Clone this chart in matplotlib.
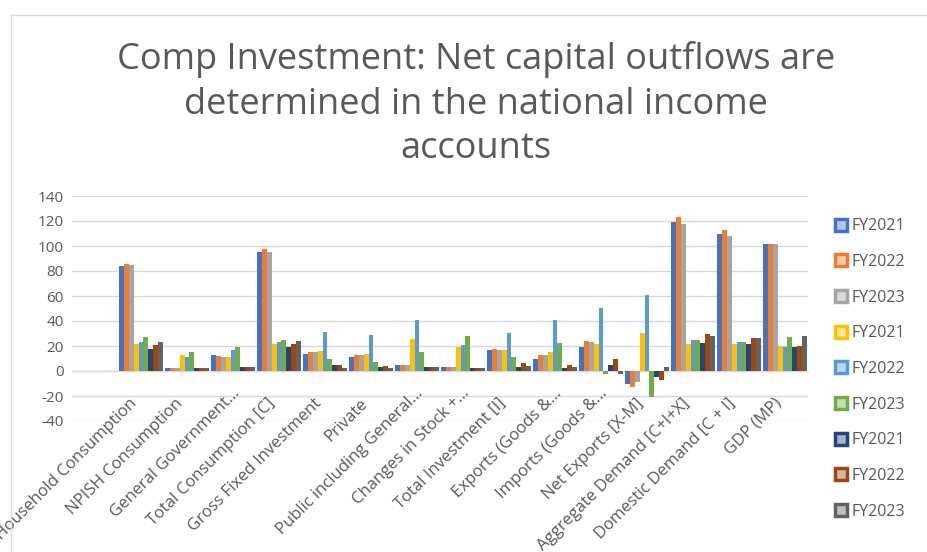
import matplotlib
matplotlib.use("Agg")
import matplotlib.pyplot as plt
import numpy as np
from matplotlib.lines import Line2D
from matplotlib.patches import Rectangle
from matplotlib.colors import to_rgb
from matplotlib.transforms import ScaledTranslation

plt.rcParams['font.family'] = ['Open Sans', 'DejaVu Sans']

title = "Comp Investment: Net capital outflows are\ndetermined in the national income\naccounts"

categories = ["", "Household Consumption", "NPISH Consumption", "General Government\u2026",
              "Total Consumption [C]", "Gross Fixed Investment", "Private",
              "Public including General\u2026", "Changes in Stock +\u2026", "Total Investment [I]",
              "Exports (Goods &\u2026", "Imports (Goods &\u2026", "Net Exports [X-M]",
              "Aggregate Demand [C+I+X]", "Domestic Demand [C + I]", "GDP (MP)"]

series_names = ["FY2021", "FY2022", "FY2023", "FY2021", "FY2022", "FY2023", "FY2021", "FY2022", "FY2023"]

nan = np.nan
s1 = [nan, 84, 2.5, 13, 95, 14, 11.5, 5, 3.5, 16.5, 10, 19.5, -10, 119, 110, 101.5]
s2 = [nan, 86, 2.5, 12, 98, 15, 13, 5, 3.5, 18, 12.5, 24, -13, 123, 113, 101.5]
s3 = [nan, 85, 2.5, 11.5, 95, 15.5, 13, 5, 3.5, 17, 13, 23, -9, 118, 108, 101.5]
s4 = [nan, 22, 12.5, 11, 22, 16, 13.5, 25.5, 19.5, 16.5, 15.5, 22, 30.5, 21.5, 21.5, 20]
s5 = [nan, 23, 11, 16.5, 23, 31.5, 29, 40.5, 20.5, 30.5, 40.5, 50.5, 60.5, 25, 23.5, 19.5]
s6 = [nan, 27, 15.5, 19.5, 25, 10, 7.5, 15.5, 28, 11.5, 22.5, -2.5, -20.5, 24.5, 23.5, 27.5]
s7 = [nan, 18, 2.5, 3.5, 19.5, 4.5, 3.5, 3, 2.5, 3.5, 2.5, 5, -5, 22.5, 22, 19]
s8 = [nan, 21, 2.5, 3.5, 22, 5, 4, 3, 2.5, 6.5, 5, 10, -7, 29.5, 26.5, 20]
s9 = [nan, 23, 2.5, 3.5, 24, 2.5, 2.5, 3, 2.5, 4, 3.5, -2.5, 3.5, 28, 26.5, 28]
series_values = [s1, s2, s3, s4, s5, s6, s7, s8, s9]

colors = ["#4472C4", "#ED7D31", "#A5A5A5", "#FFC000", "#5B9BD5", "#70AD47",
          "#264478", "#9E480E", "#636363"]

yticks = [-40, -20, 0, 20, 40, 60, 80, 100, 120, 140]

W, H = 928, 552
fig = plt.figure(figsize=(W / 100, H / 100), dpi=100)
fig.patch.set_facecolor("white")

L, R, T, B = 72, 808, 196, 421
ax = fig.add_axes([L / W, 1 - B / H, (R - L) / W, (B - T) / H])

n = len(series_values)
group = 0.957
bw = group / n
x = np.arange(len(categories))
for i, (vals, c) in enumerate(zip(series_values, colors)):
    off = -group / 2 + bw * (i + 0.5)
    ax.bar(x + off, vals, width=bw, color=c, edgecolor="none", zorder=3)

ax.set_xlim(-0.5, len(categories) - 0.5)
ax.set_ylim(-40, 140)
ax.set_yticks(yticks)
ax.set_yticklabels([str(t) for t in yticks])
ax.yaxis.grid(True, color="#d9d9d9", lw=1)
ax.set_axisbelow(True)
for s in ["top", "right", "left"]:
    ax.spines[s].set_visible(False)
ax.spines["bottom"].set_position(("data", 0))
ax.spines["bottom"].set_color("#d9d9d9")
ax.set_xticks(x)
ax.set_xticklabels([])
ax.tick_params(axis="x", length=0)
ax.tick_params(axis="y", length=0, pad=6, labelsize=11, labelcolor="#595959")

# category labels, rotated 45 degrees, right end just below the zero line
for i, lab in enumerate(categories):
    dx, dy = -6, -30
    if lab.endswith("\u2026"):
        dx, dy = dx + 10, dy + 10
    tr = ax.transData + ScaledTranslation(dx / 100, dy / 100, fig.dpi_scale_trans)
    ax.text(i, 0, lab, transform=tr, rotation=45, ha="right", va="center",
            rotation_mode="anchor", fontsize=12, color="#595959", clip_on=False)

def lighten(c, f=0.6):
    r, g, b = to_rgb(c)
    return (r + (1 - r) * f, g + (1 - g) * f, b + (1 - b) * f)

handles = [Line2D([], [], linestyle="none", marker="s", markersize=9,
                  markerfacecolor=lighten(c), markeredgecolor=c, markeredgewidth=2.5)
           for c in colors]
fig.legend(handles, series_names, loc="upper left", bbox_to_anchor=(828 / W, 1 - 212 / H),
           frameon=False, fontsize=11.5, labelcolor="#595959", handlelength=0.8,
           handletextpad=0.25, labelspacing=1.23, borderaxespad=0)

fig.text(476 / W, 1 - 104 / H, title, ha="center", va="center", fontsize=26,
         color="#595959", linespacing=1.32)

fig.add_artist(Rectangle((11 / W, -0.1), 1.2, 1.1 - 15 / H, transform=fig.transFigure,
                         fill=False, edgecolor="#d9d9d9", lw=1))

fig.savefig("out.png", dpi=100)
